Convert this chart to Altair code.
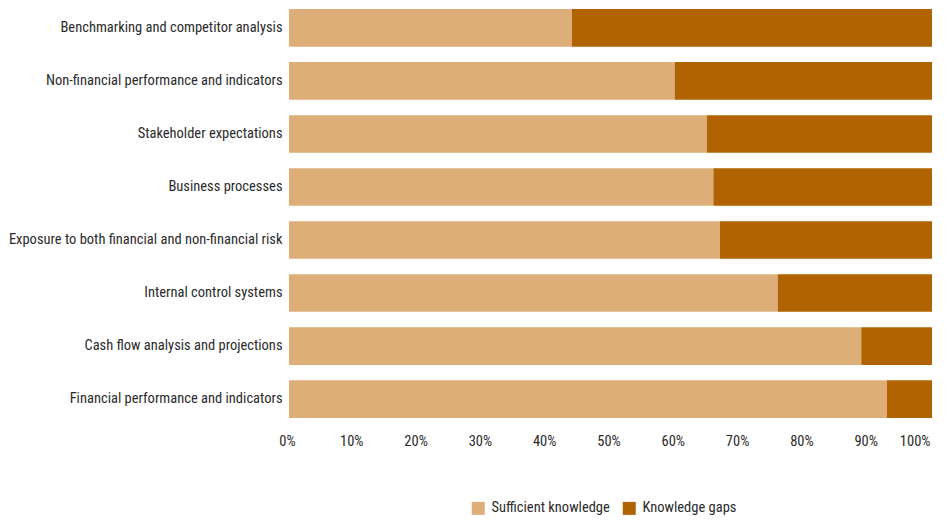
import altair as alt
import pandas as pd

categories = [
    "Benchmarking and competitor analysis",
    "Non-financial performance and indicators",
    "Stakeholder expectations",
    "Business processes",
    "Exposure to both financial and non-financial risk",
    "Internal control systems",
    "Cash flow analysis and projections",
    "Financial performance and indicators",
]
sufficient = [44, 60, 65, 66, 67, 76, 89, 93]
gaps = [100 - v for v in sufficient]
series = ["Sufficient knowledge", "Knowledge gaps"]
colors = ["#DDAE78", "#B06300"]
tick_values = [0, 0.1, 0.2, 0.3, 0.4, 0.5, 0.6, 0.7, 0.8, 0.9, 1.0]

rows = []
for c, s, g in zip(categories, sufficient, gaps):
    rows.append({"category": c, "series": series[0], "value": s / 100, "ord": 0})
    rows.append({"category": c, "series": series[1], "value": g / 100, "ord": 1})
df = pd.DataFrame(rows)

FONT = "Roboto Condensed, sans-serif"
FS = 14.5
TXT = "#2b2b2b"

chart = (
    alt.Chart(df)
    .mark_bar()
    .encode(
        y=alt.Y(
            "category:N",
            sort=categories,
            title=None,
            scale=alt.Scale(paddingInner=0.29, paddingOuter=0.02),
            axis=alt.Axis(
                labelFont=FONT,
                labelFontSize=FS,
                labelColor=TXT,
                ticks=False,
                domain=False,
                labelPadding=7,
                labelLimit=400,
            ),
        ),
        x=alt.X(
            "value:Q",
            stack="zero",
            title=None,
            scale=alt.Scale(domain=[0, 1], nice=False),
            axis=alt.Axis(
                values=tick_values,
                format=".0%",
                labelFont=FONT,
                labelFontSize=FS,
                labelColor=TXT,
                ticks=False,
                domain=False,
                grid=False,
                labelPadding=15,
                labelOffset=-2,
                labelFlush=False,
                labelAlign={"expr": "datum.value >= 1 ? 'right' : 'center'"},
            ),
        ),
        color=alt.Color(
            "series:N",
            scale=alt.Scale(domain=series, range=colors),
            legend=alt.Legend(
                title=None,
                orient="none",
                legendX=182,
                legendY=493,
                direction="horizontal",
                symbolType="square",
                symbolSize=169,
                symbolStrokeWidth=0,
                labelFont=FONT,
                labelFontSize=FS,
                labelColor=TXT,
                columnPadding=12,
                labelOffset=6,
            ),
        ),
        order=alt.Order("ord:Q"),
    )
    .properties(
        width=643,
        height=411,
        autosize=alt.AutoSizeParams(type="none"),
        padding={"left": 281, "top": 0, "right": 9, "bottom": 98},
    )
    .configure_view(stroke=None)
)

chart.save("out.html", embed_options={"renderer": "svg", "actions": False})
